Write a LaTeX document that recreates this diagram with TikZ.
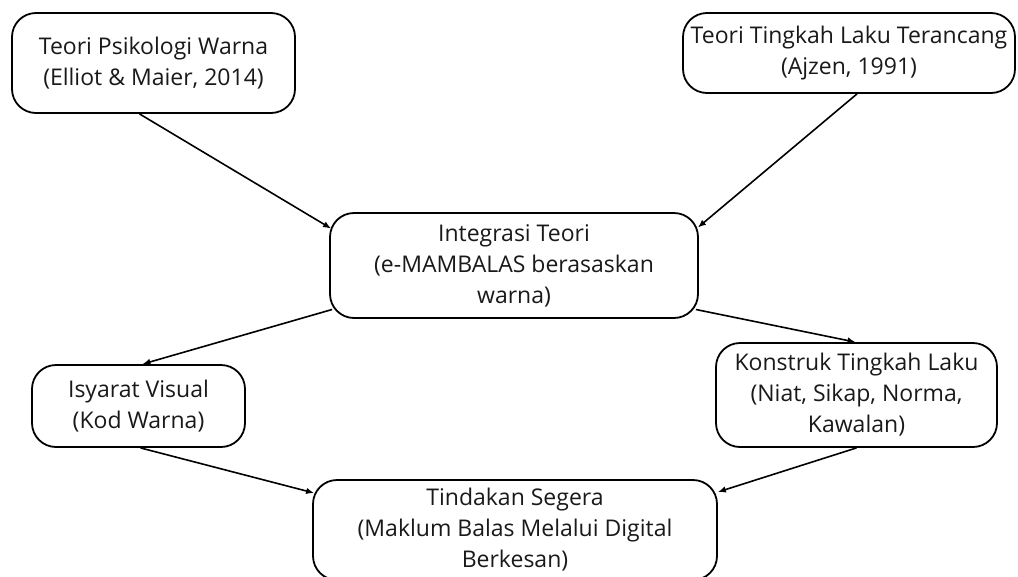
\documentclass[tikz,border=0pt]{standalone}
\usepackage{fontspec}
\setmainfont{Open Sans}
\usetikzlibrary{arrows.meta}
\begin{document}
\begin{tikzpicture}[x=1pt,y=-1pt,
  box/.style={draw=black,line width=1.8pt,rounded corners=24pt,align=center,
    font=\fontsize{23}{31}\selectfont,text=black!90,inner sep=0pt},
  arr/.style={line width=1.6pt,-{Latex[length=8pt,width=6.5pt]}}]
\useasboundingbox (0,0) rectangle (1018,576);
\clip (0,0) rectangle (1018,576);
\node[box,minimum width=283pt,minimum height=100pt] (b1) at (153.5,63)
  {Teori Psikologi Warna\\(Elliot \& Maier, 2014)};
\node[box,minimum width=332pt,minimum height=80pt] (b2) at (849,53)
  {Teori Tingkah Laku Terancang\\(Ajzen, 1991)};
\node[box,minimum width=368pt,minimum height=105pt] (b3) at (514,265.5)
  {Integrasi Teori\\(e-MAMBALAS berasaskan\\warna)};
\node[box,minimum width=213pt,minimum height=82pt] (b4) at (138.5,406)
  {Isyarat Visual\\(Kod Warna)};
\node[box,minimum width=281pt,minimum height=104pt] (b5) at (856.5,395)
  {Konstruk Tingkah Laku\\(Niat, Sikap, Norma,\\Kawalan)};
\node[box,minimum width=404pt,minimum height=100pt] (b6) at (515,530)
  {Tindakan Segera\\(Maklum Balas Melalui Digital\\Berkesan)};
\draw[arr] ([xshift=-14pt]b1.south) -- ([xshift=2pt,yshift=37pt]b3.west);
\draw[arr] ([xshift=8pt]b2.south) -- ([xshift=-1pt,yshift=38pt]b3.east);
\draw[arr] ([xshift=3pt,yshift=-44pt]b3.west) -- ([xshift=4pt]b4.north);
\draw[arr] ([xshift=-3pt,yshift=-44pt]b3.east) -- ([xshift=-1pt]b5.north);
\draw[arr] ([xshift=2pt]b4.south) -- ([xshift=2pt,yshift=37pt]b6.west);
\draw[arr] (b5.south) -- ([yshift=38pt]b6.east);
\end{tikzpicture}
\end{document}
